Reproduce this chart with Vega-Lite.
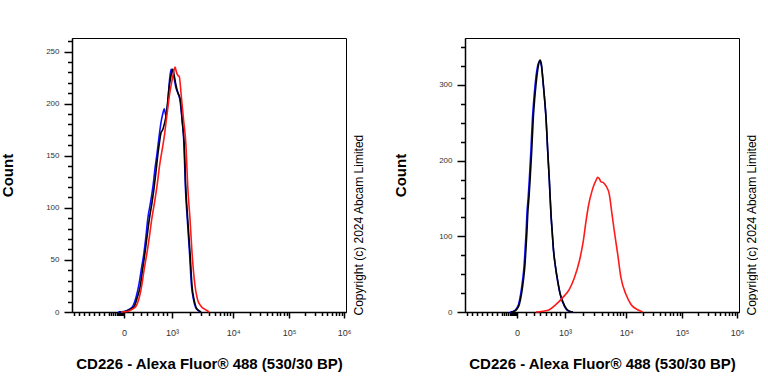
{
  "$schema": "https://vega.github.io/schema/vega-lite/v6.json",
  "padding": {"left": 0, "top": 37, "right": 0, "bottom": 0},
  "background": "white",
  "config": {
    "font": "Liberation Sans",
    "view": {"stroke": "#000", "strokeWidth": 1},
    "axis": {
      "grid": false,
      "domainColor": "#000",
      "domainWidth": 1.5,
      "tickColor": "#000",
      "tickWidth": 1.5,
      "labelFont": "Liberation Sans",
      "labelFontSize": 8,
      "labelColor": "#333",
      "titleFont": "Liberation Sans",
      "titleFontWeight": "bold",
      "titleColor": "#000"
    }
  },
  "spacing": 28,
  "datasets": {
    "left": [
      {"s": "blue", "ch": 167.9, "n": 0}, {"s": "blue", "ch": 189.8, "n": 0.5}, {"s": "blue", "ch": 200.8, "n": 1.5}, {"s": "blue", "ch": 211.7, "n": 3}, {"s": "blue", "ch": 222.7, "n": 6}, {"s": "blue", "ch": 233.6, "n": 14}, {"s": "blue", "ch": 244.6, "n": 27}, {"s": "blue", "ch": 253.7, "n": 42}, {"s": "blue", "ch": 262.8, "n": 57}, {"s": "blue", "ch": 270.1, "n": 73}, {"s": "blue", "ch": 276.3, "n": 89}, {"s": "blue", "ch": 286.5, "n": 105}, {"s": "blue", "ch": 295.7, "n": 121}, {"s": "blue", "ch": 303, "n": 138}, {"s": "blue", "ch": 310.3, "n": 152}, {"s": "blue", "ch": 317.6, "n": 168}, {"s": "blue", "ch": 324.9, "n": 182}, {"s": "blue", "ch": 331.1, "n": 190}, {"s": "blue", "ch": 336.9, "n": 195}, {"s": "blue", "ch": 343.1, "n": 188}, {"s": "blue", "ch": 349.3, "n": 200}, {"s": "blue", "ch": 355.1, "n": 220}, {"s": "blue", "ch": 361.4, "n": 233}, {"s": "blue", "ch": 366.8, "n": 232}, {"s": "blue", "ch": 372.3, "n": 225}, {"s": "blue", "ch": 379.6, "n": 215}, {"s": "blue", "ch": 386.9, "n": 210}, {"s": "blue", "ch": 394.2, "n": 203}, {"s": "blue", "ch": 401.5, "n": 185}, {"s": "blue", "ch": 408.8, "n": 160}, {"s": "blue", "ch": 413.5, "n": 122}, {"s": "blue", "ch": 420.8, "n": 89}, {"s": "blue", "ch": 428.9, "n": 57}, {"s": "blue", "ch": 436.2, "n": 25}, {"s": "blue", "ch": 443.5, "n": 12}, {"s": "blue", "ch": 450.8, "n": 4.5}, {"s": "blue", "ch": 459.9, "n": 1.5}, {"s": "blue", "ch": 470.9, "n": 0},
      {"s": "black", "ch": 171.5, "n": 0}, {"s": "black", "ch": 193.4, "n": 0.5}, {"s": "black", "ch": 204.4, "n": 1.5}, {"s": "black", "ch": 215.3, "n": 3}, {"s": "black", "ch": 227.4, "n": 5.5}, {"s": "black", "ch": 237.2, "n": 13}, {"s": "black", "ch": 249.3, "n": 25}, {"s": "black", "ch": 257.3, "n": 40}, {"s": "black", "ch": 266.4, "n": 57}, {"s": "black", "ch": 273.7, "n": 72}, {"s": "black", "ch": 282.1, "n": 89}, {"s": "black", "ch": 292, "n": 105}, {"s": "black", "ch": 300.4, "n": 121}, {"s": "black", "ch": 306.6, "n": 135}, {"s": "black", "ch": 312.8, "n": 150}, {"s": "black", "ch": 319.4, "n": 163}, {"s": "black", "ch": 324.8, "n": 172}, {"s": "black", "ch": 331.1, "n": 175}, {"s": "black", "ch": 337.6, "n": 181}, {"s": "black", "ch": 343.1, "n": 188}, {"s": "black", "ch": 349.3, "n": 202}, {"s": "black", "ch": 355.1, "n": 217}, {"s": "black", "ch": 361.4, "n": 227}, {"s": "black", "ch": 367.5, "n": 233}, {"s": "black", "ch": 372.3, "n": 228}, {"s": "black", "ch": 377.8, "n": 220}, {"s": "black", "ch": 385.8, "n": 211}, {"s": "black", "ch": 395.3, "n": 204}, {"s": "black", "ch": 402.6, "n": 183}, {"s": "black", "ch": 409.9, "n": 159}, {"s": "black", "ch": 415, "n": 121}, {"s": "black", "ch": 422.3, "n": 89}, {"s": "black", "ch": 430.7, "n": 57}, {"s": "black", "ch": 438, "n": 25}, {"s": "black", "ch": 445.3, "n": 12}, {"s": "black", "ch": 452.6, "n": 4.5}, {"s": "black", "ch": 461.7, "n": 1.5}, {"s": "black", "ch": 470.9, "n": 0},
      {"s": "red", "ch": 178.9, "n": 0}, {"s": "red", "ch": 200.8, "n": 0.5}, {"s": "red", "ch": 211.7, "n": 1.5}, {"s": "red", "ch": 222.7, "n": 3}, {"s": "red", "ch": 233.6, "n": 5.5}, {"s": "red", "ch": 244.6, "n": 13}, {"s": "red", "ch": 254.4, "n": 25}, {"s": "red", "ch": 262.8, "n": 40}, {"s": "red", "ch": 273.8, "n": 57}, {"s": "red", "ch": 282.9, "n": 73}, {"s": "red", "ch": 290.9, "n": 89}, {"s": "red", "ch": 301.1, "n": 105}, {"s": "red", "ch": 310.3, "n": 121}, {"s": "red", "ch": 319.4, "n": 140}, {"s": "red", "ch": 331.1, "n": 159}, {"s": "red", "ch": 337.6, "n": 170}, {"s": "red", "ch": 343.1, "n": 182}, {"s": "red", "ch": 349.3, "n": 195}, {"s": "red", "ch": 355.1, "n": 207}, {"s": "red", "ch": 361.4, "n": 217}, {"s": "red", "ch": 367.6, "n": 226}, {"s": "red", "ch": 372.3, "n": 232}, {"s": "red", "ch": 376, "n": 235}, {"s": "red", "ch": 381.4, "n": 230}, {"s": "red", "ch": 386.9, "n": 227}, {"s": "red", "ch": 391.6, "n": 226}, {"s": "red", "ch": 395.3, "n": 218}, {"s": "red", "ch": 397.9, "n": 210}, {"s": "red", "ch": 407, "n": 185}, {"s": "red", "ch": 416.1, "n": 159}, {"s": "red", "ch": 422.3, "n": 121}, {"s": "red", "ch": 430.7, "n": 89}, {"s": "red", "ch": 438, "n": 57}, {"s": "red", "ch": 449, "n": 25}, {"s": "red", "ch": 458.1, "n": 12}, {"s": "red", "ch": 470.9, "n": 5.5}, {"s": "red", "ch": 485.5, "n": 2.5}, {"s": "red", "ch": 501.1, "n": 0}
    ],
    "right": [
      {"s": "blue", "ch": 164.3, "n": 0}, {"s": "blue", "ch": 177, "n": 1}, {"s": "blue", "ch": 186.9, "n": 4}, {"s": "blue", "ch": 195.3, "n": 10}, {"s": "blue", "ch": 203.3, "n": 24}, {"s": "blue", "ch": 209.9, "n": 41}, {"s": "blue", "ch": 216.1, "n": 63}, {"s": "blue", "ch": 219.7, "n": 85}, {"s": "blue", "ch": 223.4, "n": 108}, {"s": "blue", "ch": 226, "n": 129}, {"s": "blue", "ch": 230.7, "n": 152}, {"s": "blue", "ch": 234.4, "n": 173}, {"s": "blue", "ch": 240.5, "n": 213}, {"s": "blue", "ch": 246.4, "n": 257}, {"s": "blue", "ch": 251.5, "n": 282}, {"s": "blue", "ch": 256.2, "n": 301}, {"s": "blue", "ch": 261.7, "n": 318}, {"s": "blue", "ch": 266.5, "n": 327}, {"s": "blue", "ch": 272, "n": 331}, {"s": "blue", "ch": 278.5, "n": 326}, {"s": "blue", "ch": 282.1, "n": 315}, {"s": "blue", "ch": 285.8, "n": 300}, {"s": "blue", "ch": 290.9, "n": 279}, {"s": "blue", "ch": 295.7, "n": 256}, {"s": "blue", "ch": 301.9, "n": 212}, {"s": "blue", "ch": 307.7, "n": 174}, {"s": "blue", "ch": 313.9, "n": 128}, {"s": "blue", "ch": 318.3, "n": 105}, {"s": "blue", "ch": 322.3, "n": 84}, {"s": "blue", "ch": 330.3, "n": 59}, {"s": "blue", "ch": 338.4, "n": 40}, {"s": "blue", "ch": 346.8, "n": 24}, {"s": "blue", "ch": 356.6, "n": 13}, {"s": "blue", "ch": 368.7, "n": 4}, {"s": "blue", "ch": 380.7, "n": 1}, {"s": "blue", "ch": 394.2, "n": 0},
      {"s": "black", "ch": 167.9, "n": 0}, {"s": "black", "ch": 179.9, "n": 1}, {"s": "black", "ch": 189.8, "n": 4}, {"s": "black", "ch": 198.2, "n": 10}, {"s": "black", "ch": 206.2, "n": 24}, {"s": "black", "ch": 212.8, "n": 41}, {"s": "black", "ch": 219, "n": 63}, {"s": "black", "ch": 222.7, "n": 85}, {"s": "black", "ch": 226.3, "n": 108}, {"s": "black", "ch": 228.9, "n": 129}, {"s": "black", "ch": 233.6, "n": 152}, {"s": "black", "ch": 237.3, "n": 173}, {"s": "black", "ch": 243.5, "n": 213}, {"s": "black", "ch": 249.3, "n": 257}, {"s": "black", "ch": 254.4, "n": 282}, {"s": "black", "ch": 259.2, "n": 301}, {"s": "black", "ch": 264.6, "n": 318}, {"s": "black", "ch": 269, "n": 328}, {"s": "black", "ch": 273.8, "n": 333}, {"s": "black", "ch": 278.5, "n": 328}, {"s": "black", "ch": 282.1, "n": 316}, {"s": "black", "ch": 285.8, "n": 301}, {"s": "black", "ch": 290.9, "n": 280}, {"s": "black", "ch": 295.7, "n": 257}, {"s": "black", "ch": 301.9, "n": 213}, {"s": "black", "ch": 307.7, "n": 175}, {"s": "black", "ch": 313.9, "n": 129}, {"s": "black", "ch": 318.3, "n": 106}, {"s": "black", "ch": 322.3, "n": 85}, {"s": "black", "ch": 330.3, "n": 60}, {"s": "black", "ch": 338.4, "n": 41}, {"s": "black", "ch": 346.8, "n": 25}, {"s": "black", "ch": 356.6, "n": 14}, {"s": "black", "ch": 368.7, "n": 5}, {"s": "black", "ch": 380.7, "n": 1}, {"s": "black", "ch": 394.2, "n": 0},
      {"s": "red", "ch": 259.2, "n": 0}, {"s": "red", "ch": 283.6, "n": 1}, {"s": "red", "ch": 307.7, "n": 3}, {"s": "red", "ch": 332.2, "n": 10}, {"s": "red", "ch": 356.6, "n": 19}, {"s": "red", "ch": 380.7, "n": 30}, {"s": "red", "ch": 398.9, "n": 45}, {"s": "red", "ch": 417.2, "n": 67}, {"s": "red", "ch": 431.8, "n": 94}, {"s": "red", "ch": 441.7, "n": 120}, {"s": "red", "ch": 451.5, "n": 142}, {"s": "red", "ch": 463.6, "n": 160}, {"s": "red", "ch": 470.9, "n": 168}, {"s": "red", "ch": 478.2, "n": 174}, {"s": "red", "ch": 484.4, "n": 178}, {"s": "red", "ch": 490.2, "n": 176}, {"s": "red", "ch": 496.4, "n": 172}, {"s": "red", "ch": 504.8, "n": 171}, {"s": "red", "ch": 514.7, "n": 166.5}, {"s": "red", "ch": 526.7, "n": 155.5}, {"s": "red", "ch": 536.6, "n": 129}, {"s": "red", "ch": 544.9, "n": 107}, {"s": "red", "ch": 557.4, "n": 76}, {"s": "red", "ch": 569.4, "n": 45}, {"s": "red", "ch": 587.7, "n": 23}, {"s": "red", "ch": 605.9, "n": 10}, {"s": "red", "ch": 630.4, "n": 3}, {"s": "red", "ch": 648.6, "n": 0}
    ]
  },
  "hconcat": [
    {
      "width": 274,
      "height": 274,
      "data": {"name": "left"},
      "resolve": {"axis": {"x": "independent", "y": "independent"}},
      "layer": [
        {
          "mark": {"type": "line", "strokeWidth": 1.6, "interpolate": "monotone", "strokeJoin": "round"},
          "encoding": {
            "x": {"field": "ch", "type": "quantitative", "scale": {"domain": [0, 1000], "nice": false, "zero": false},
              "axis": {"orient": "bottom", "values": [190, 365, 588, 792, 993], "tickSize": 6, "labelPadding": 10, "labelFontSize": 9,
                "labelExpr": "datum.value == 190 ? '0' : datum.value == 365 ? '10³' : datum.value == 588 ? '10⁴' : datum.value == 792 ? '10⁵' : '10⁶'",
                "title": "CD226 - Alexa Fluor® 488 (530/30 BP)", "titleFontSize": 15, "titlePadding": 19}},
            "y": {"field": "n", "type": "quantitative", "scale": {"domain": [0, 263], "nice": false},
              "axis": {"orient": "left", "values": [0, 50, 100, 150, 200, 250], "tickSize": 8, "labelPadding": 5,
                "title": "Count", "titleFontSize": 15, "titlePadding": 30}},
            "color": {"field": "s", "type": "nominal", "scale": {"domain": ["blue", "black", "red"], "range": ["#1010ff", "#000000", "#ff1a1a"]}, "legend": null}
          }
        },
        {
          "mark": {"type": "line", "opacity": 0},
          "encoding": {
            "x": {"field": "ch", "type": "quantitative", "scale": {"domain": [0, 1000], "nice": false, "zero": false},
              "axis": {"orient": "bottom", "values": [7, 26, 44, 62, 80, 99, 117, 135, 142, 150, 157, 163, 168, 172, 176, 180, 184, 187, 221, 252, 274, 294, 313, 331, 347, 432, 471, 499, 521, 539, 553, 566, 578, 649, 685, 711, 731, 747, 760, 772, 783, 852, 888, 913, 932, 948, 962, 974, 984],
                "tickSize": 3.5, "labels": false, "domain": false, "title": null}},
            "y": {"field": "n", "type": "quantitative", "scale": {"domain": [0, 263], "nice": false},
              "axis": {"orient": "left", "values": [10, 20, 30, 40, 60, 70, 80, 90, 110, 120, 130, 140, 160, 170, 180, 190, 210, 220, 230, 240, 260],
                "tickSize": 4.5, "labels": false, "domain": false, "title": null}},
            "detail": {"field": "s", "type": "nominal"}
          }
        },
        {
          "mark": {"type": "line", "opacity": 0},
          "encoding": {
            "x": {"field": "ch", "type": "quantitative", "scale": {"domain": [0, 1000], "nice": false, "zero": false}, "axis": null},
            "y": {"field": "n", "type": "quantitative", "scale": {"domain": [0, 263], "nice": false},
              "axis": {"orient": "right", "labels": false, "ticks": false, "domain": false,
                "title": "Copyright (c) 2024 Abcam Limited", "titleFontWeight": "normal", "titleFontSize": 12, "titleColor": "#000",
                "titleAngle": 270, "titleX": 16, "titleY": 277, "titleAlign": "left", "titleBaseline": "alphabetic"}},
            "detail": {"field": "s", "type": "nominal"}
          }
        }
      ]
    },
    {
      "width": 274,
      "height": 274,
      "data": {"name": "right"},
      "resolve": {"axis": {"x": "independent", "y": "independent"}},
      "layer": [
        {
          "mark": {"type": "line", "strokeWidth": 1.6, "interpolate": "monotone", "strokeJoin": "round"},
          "encoding": {
            "x": {"field": "ch", "type": "quantitative", "scale": {"domain": [0, 1000], "nice": false, "zero": false},
              "axis": {"orient": "bottom", "values": [190, 365, 588, 792, 993], "tickSize": 6, "labelPadding": 10, "labelFontSize": 9,
                "labelExpr": "datum.value == 190 ? '0' : datum.value == 365 ? '10³' : datum.value == 588 ? '10⁴' : datum.value == 792 ? '10⁵' : '10⁶'",
                "title": "CD226 - Alexa Fluor® 488 (530/30 BP)", "titleFontSize": 15, "titlePadding": 19}},
            "y": {"field": "n", "type": "quantitative", "scale": {"domain": [0, 362], "nice": false},
              "axis": {"orient": "left", "values": [0, 100, 200, 300], "tickSize": 8, "labelPadding": 5,
                "title": "Count", "titleFontSize": 15, "titlePadding": 30}},
            "color": {"field": "s", "type": "nominal", "scale": {"domain": ["blue", "black", "red"], "range": ["#1010ff", "#000000", "#ff1a1a"]}, "legend": null}
          }
        },
        {
          "mark": {"type": "line", "opacity": 0},
          "encoding": {
            "x": {"field": "ch", "type": "quantitative", "scale": {"domain": [0, 1000], "nice": false, "zero": false},
              "axis": {"orient": "bottom", "values": [7, 26, 44, 62, 80, 99, 117, 135, 142, 150, 157, 163, 168, 172, 176, 180, 184, 187, 221, 252, 274, 294, 313, 331, 347, 432, 471, 499, 521, 539, 553, 566, 578, 649, 685, 711, 731, 747, 760, 772, 783, 852, 888, 913, 932, 948, 962, 974, 984],
                "tickSize": 3.5, "labels": false, "domain": false, "title": null}},
            "y": {"field": "n", "type": "quantitative", "scale": {"domain": [0, 362], "nice": false},
              "axis": {"orient": "left", "values": [25, 50, 75, 125, 150, 175, 225, 250, 275, 325, 350],
                "tickSize": 4.5, "labels": false, "domain": false, "title": null}},
            "detail": {"field": "s", "type": "nominal"}
          }
        },
        {
          "mark": {"type": "line", "opacity": 0},
          "encoding": {
            "x": {"field": "ch", "type": "quantitative", "scale": {"domain": [0, 1000], "nice": false, "zero": false}, "axis": null},
            "y": {"field": "n", "type": "quantitative", "scale": {"domain": [0, 362], "nice": false},
              "axis": {"orient": "right", "labels": false, "ticks": false, "domain": false,
                "title": "Copyright (c) 2024 Abcam Limited", "titleFontWeight": "normal", "titleFontSize": 12, "titleColor": "#000",
                "titleAngle": 270, "titleX": 16, "titleY": 277, "titleAlign": "left", "titleBaseline": "alphabetic"}},
            "detail": {"field": "s", "type": "nominal"}
          }
        }
      ]
    }
  ]
}
